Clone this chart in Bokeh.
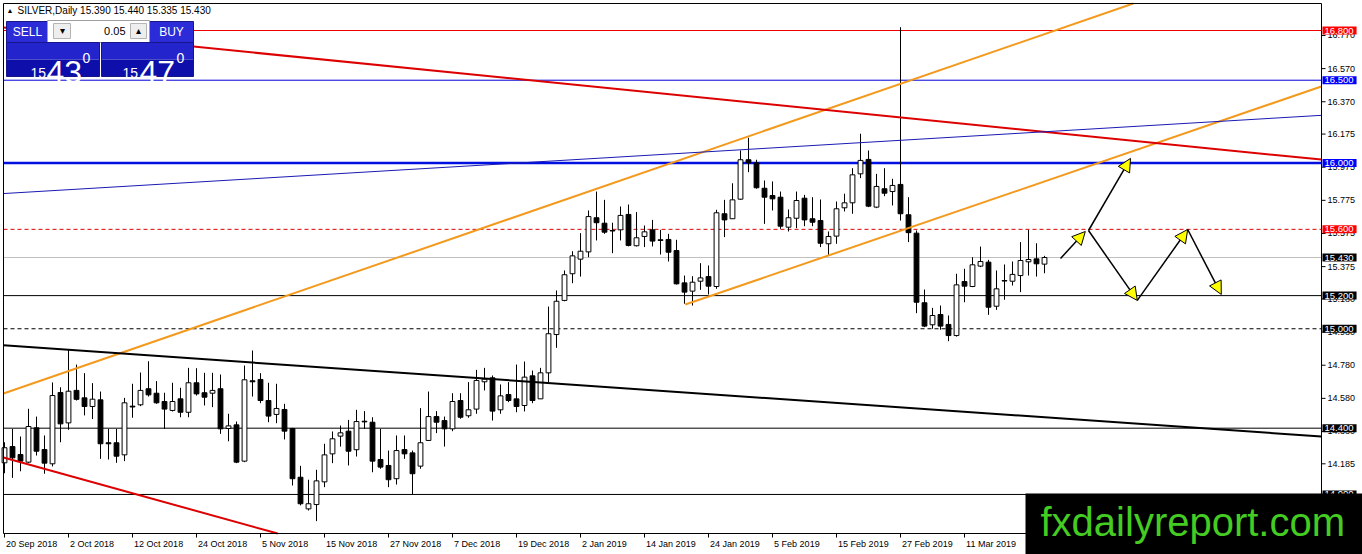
from bokeh.plotting import figure
from bokeh.models import ColumnDataSource, Range1d, Label, Arrow, NormalHead
from bokeh.core.properties import value
from bokeh.embed import file_html
from bokeh.resources import INLINE

# ---------------- data (SILVER daily) ----------------
opens = [14.191, 14.289, 14.241, 14.195, 14.402, 14.271, 14.185, 14.615, 14.432, 14.628,
         14.583, 14.531, 14.571, 14.312, 14.312, 14.239, 14.533, 14.541, 14.638, 14.611,
         14.561, 14.507, 14.577, 14.496, 14.674, 14.614, 14.611, 14.638, 14.398, 14.420,
         14.201, 14.686, 14.694, 14.567, 14.483, 14.513, 14.398, 14.104, 13.913, 13.939,
         14.076, 14.245, 14.352, 14.382, 14.270, 14.442, 14.436, 14.211, 14.175, 14.095,
         14.271, 14.251, 14.171, 14.326, 14.470, 14.446, 14.396, 14.567, 14.475, 14.515,
         14.680, 14.704, 14.511, 14.603, 14.577, 14.537, 14.716, 14.577, 14.734, 14.965,
         15.171, 15.332, 15.420, 15.464, 15.670, 15.637, 15.593, 15.597, 15.690, 15.501,
         15.557, 15.597, 15.537, 15.539, 15.472, 15.277, 15.227, 15.287, 15.315, 15.255,
         15.694, 15.664, 15.782, 16.020, 16.000, 15.848, 15.804, 15.794, 15.613, 15.667,
         15.788, 15.664, 15.653, 15.513, 15.559, 15.730, 15.760, 15.935, 16.022, 15.734,
         15.845, 15.828, 15.871, 15.688, 15.577, 15.157, 15.024, 15.086, 15.026, 14.959,
         15.285, 15.255, 15.378, 15.402, 15.136, 15.291, 15.287, 15.321, 15.404, 15.422,
         15.390]
highs = [14.315, 14.396, 14.350, 14.517, 14.470, 14.356, 14.676, 14.647, 14.875, 14.784,
         14.732, 14.672, 14.621, 14.396, 14.396, 14.583, 14.668, 14.736, 14.804, 14.684,
         14.614, 14.674, 14.644, 14.764, 14.762, 14.734, 14.734, 14.724, 14.487, 14.440,
         14.778, 14.869, 14.732, 14.674, 14.668, 14.547, 14.402, 14.173, 14.089, 14.149,
         14.306, 14.380, 14.416, 14.450, 14.511, 14.503, 14.466, 14.396, 14.265, 14.356,
         14.356, 14.265, 14.521, 14.621, 14.503, 14.470, 14.611, 14.611, 14.678, 14.752,
         14.764, 14.718, 14.664, 14.678, 14.784, 14.802, 14.748, 14.764, 15.134, 15.231,
         15.352, 15.468, 15.577, 15.714, 15.828, 15.778, 15.640, 15.738, 15.750, 15.704,
         15.623, 15.657, 15.597, 15.573, 15.537, 15.321, 15.317, 15.396, 15.382, 15.718,
         15.778, 15.878, 16.076, 16.153, 16.020, 15.895, 15.889, 15.828, 15.720, 15.828,
         15.808, 15.794, 15.780, 15.587, 15.768, 15.815, 15.969, 16.177, 16.076, 15.935,
         15.969, 15.905, 16.820, 15.794, 15.593, 15.237, 15.126, 15.140, 15.080, 15.332,
         15.362, 15.432, 15.496, 15.416, 15.352, 15.388, 15.406, 15.523, 15.597, 15.516,
         15.440]
lows = [14.128, 14.100, 14.140, 14.189, 14.235, 14.125, 14.169, 14.315, 14.390, 14.567,
        14.477, 14.455, 14.215, 14.211, 14.191, 14.201, 14.463, 14.533, 14.591, 14.547,
        14.396, 14.501, 14.466, 14.466, 14.597, 14.537, 14.527, 14.366, 14.321, 14.189,
        14.195, 14.591, 14.551, 14.436, 14.430, 14.332, 14.054, 13.934, 13.903, 13.839,
        14.044, 14.189, 14.289, 14.175, 14.229, 14.396, 14.134, 14.155, 14.044, 14.060,
        14.215, 14.000, 14.155, 14.326, 14.370, 14.289, 14.382, 14.457, 14.463, 14.487,
        14.628, 14.446, 14.487, 14.557, 14.496, 14.501, 14.551, 14.577, 14.678, 14.885,
        15.166, 15.275, 15.315, 15.432, 15.533, 15.573, 15.456, 15.533, 15.497, 15.497,
        15.493, 15.497, 15.448, 15.406, 15.267, 15.151, 15.140, 15.235, 15.207, 15.241,
        15.553, 15.664, 15.778, 15.945, 15.845, 15.633, 15.714, 15.603, 15.587, 15.607,
        15.619, 15.619, 15.493, 15.446, 15.513, 15.708, 15.694, 15.909, 15.734, 15.728,
        15.800, 15.744, 15.653, 15.523, 15.094, 15.010, 15.000, 14.994, 14.925, 14.953,
        15.160, 15.251, 15.372, 15.084, 15.114, 15.175, 15.261, 15.221, 15.321, 15.315,
        15.335]
closes = [14.282, 14.221, 14.201, 14.410, 14.261, 14.189, 14.597, 14.426, 14.623, 14.574,
          14.531, 14.575, 14.306, 14.306, 14.231, 14.553, 14.528, 14.628, 14.601, 14.553,
          14.515, 14.561, 14.496, 14.674, 14.607, 14.587, 14.628, 14.396, 14.414, 14.195,
          14.692, 14.680, 14.567, 14.473, 14.519, 14.382, 14.095, 13.944, 13.944, 14.082,
          14.239, 14.336, 14.372, 14.261, 14.440, 14.438, 14.201, 14.165, 14.089, 14.265,
          14.245, 14.125, 14.312, 14.470, 14.436, 14.396, 14.561, 14.466, 14.511, 14.688,
          14.696, 14.503, 14.595, 14.567, 14.531, 14.708, 14.567, 14.734, 14.970, 15.166,
          15.326, 15.440, 15.468, 15.677, 15.640, 15.583, 15.590, 15.684, 15.503, 15.549,
          15.585, 15.529, 15.533, 15.462, 15.271, 15.221, 15.281, 15.307, 15.257, 15.700,
          15.657, 15.778, 16.020, 16.002, 15.851, 15.794, 15.784, 15.619, 15.670, 15.774,
          15.657, 15.643, 15.516, 15.557, 15.724, 15.760, 15.929, 16.016, 15.740, 15.859,
          15.818, 15.865, 15.694, 15.580, 15.160, 15.016, 15.080, 15.016, 14.959, 15.265,
          15.257, 15.386, 15.406, 15.130, 15.241, 15.288, 15.328, 15.412, 15.418, 15.392,
          15.430]

date_tick_bars = [0, 8, 16, 24, 32, 40, 48, 56, 64, 72, 80, 88, 96, 104, 112, 120]
date_tick_labels = ["20 Sep 2018", "2 Oct 2018", "12 Oct 2018", "24 Oct 2018", "5 Nov 2018",
                    "15 Nov 2018", "27 Nov 2018", "7 Dec 2018", "19 Dec 2018", "2 Jan 2019",
                    "14 Jan 2019", "24 Jan 2019", "5 Feb 2019", "15 Feb 2019", "27 Feb 2019",
                    "11 Mar 2019"]
price_ticks = [16.770, 16.570, 16.370, 16.175, 15.975, 15.775, 15.575, 15.375, 15.180,
               14.980, 14.780, 14.580, 14.380, 14.185, 13.985]

level_prices = [16.800, 16.500, 16.000, 15.600, 15.430, 15.200, 15.000, 14.400, 14.000]
level_colors = ["#ee0000", "#0000d8", "#0010e0", "#dd0000", "#c0c0c0",
                "black", "black", "black", "black"]
level_widths = [1, 1, 2.5, 1, 1, 1, 1, 1, 1]
level_dashes = ["solid", "solid", "solid", "4 3", "solid", "solid", "4 3", "solid", "solid"]
level_tag_bg = ["#ff0000", "#0000ff", "#0000ff", "#ff0000", "black",
                "black", "black", "black", "black"]

# trend lines drawn on the chart: (bar index pair, price pair, colour, width)
trend_x = [[-0.125, 141.1], [85.1, 164.6], [-0.125, 164.6], [-0.125, 164.6], [-0.125, 164.6], [-0.125, 34.15]]
trend_y = [[14.609, 16.963], [15.146, 16.462], [16.818, 16.021], [15.816, 16.288], [14.900, 14.350], [14.223, 13.7644]]
trend_colors = ["#f39a1e", "#f39a1e", "#dd0000", "#1a1ab4", "black", "#dd0000"]
trend_widths = [2, 2, 2, 1, 2, 2]

# projected path arrows (bar index, price)
arrow_x0 = [132.0, 135.5, 135.5, 141.6, 147.9]
arrow_y0 = [15.424, 15.593, 15.593, 15.171, 15.599]
arrow_x1 = [135.1, 140.75, 141.6, 147.9, 152.1]
arrow_y1 = [15.587, 16.028, 15.171, 15.599, 15.207]


# ---------------- layout helpers (reference pixel -> data) ----------------
def X(px):
    return (px - 4.0) / 8.0


def Y(py):
    return 16.8 - (py - 30.0) / 165.7


FONT = "Liberation Sans"
CHART_L, CHART_T, CHART_R, CHART_B = 3, 3, 1321, 533   # chart area, scales outside it

tops = [max(o, c) for o, c in zip(opens, closes)]
bots = [min(o, c) for o, c in zip(opens, closes)]
fills = ["white" if c >= o else "black" for o, c in zip(opens, closes)]
src = ColumnDataSource(dict(idx=list(range(len(opens))), high=highs, low=lows,
                            top=tops, bottom=bots, fill=fills))

p = figure(width=1362, height=554, output_backend="svg", toolbar_location=None,
           x_range=Range1d(X(0), X(1362)), y_range=Range1d(Y(554), Y(0)),
           x_axis_location=None, y_axis_location=None, min_border=0)
p.background_fill_color = "white"
p.border_fill_color = "white"
p.outline_line_color = None
p.xgrid.visible = False
p.ygrid.visible = False

# horizontal levels (behind candles), ending at the price scale
for lp, lc, lw, ld in zip(level_prices, level_colors, level_widths, level_dashes):
    p.segment(x0=[X(CHART_L)], y0=[lp], x1=[X(CHART_R)], y1=[lp],
              line_color=lc, line_width=lw, line_dash=ld)

# candles
p.segment(x0="idx", y0="low", x1="idx", y1="high", source=src, line_color="black", line_width=1)
p.vbar(x="idx", width=0.6, top="top", bottom="bottom", source=src,
       fill_color="fill", line_color="black", line_width=1)

# trend lines
for tx, ty, tc, tw in zip(trend_x, trend_y, trend_colors, trend_widths):
    p.line(tx, ty, line_color=tc, line_width=tw)

# chart border and scales (price scale on the right, dates below)
p.line([X(CHART_L), X(CHART_L), X(CHART_R), X(CHART_R), X(CHART_L)],
       [Y(CHART_B), Y(CHART_T), Y(CHART_T), Y(CHART_B), Y(CHART_B)],
       line_color="black", line_width=1)
n_p = len(price_ticks)
p.segment(x0=[X(CHART_R)] * n_p, y0=price_ticks, x1=[X(CHART_R + 4)] * n_p, y1=price_ticks,
          line_color="black", line_width=1)
p.text(x=[X(CHART_R + 6)] * n_p, y=price_ticks, text=["%.3f" % t for t in price_ticks],
       text_color="black", text_font=value(FONT), text_font_size="9px",
       text_align="left", text_baseline="middle")
n_d = len(date_tick_bars)
p.segment(x0=date_tick_bars, y0=[Y(CHART_B)] * n_d, x1=date_tick_bars, y1=[Y(CHART_B + 4)] * n_d,
          line_color="black", line_width=1)
p.text(x=[b + 0.2 for b in date_tick_bars], y=[Y(CHART_B + 5)] * n_d, text=date_tick_labels,
       text_color="black", text_font=value(FONT), text_font_size="9px",
       text_align="left", text_baseline="top")


# one-click trading panel
def box(l, r, t, b, fill, line=None):
    p.quad(left=[X(l)], right=[X(r)], top=[Y(t)], bottom=[Y(b)],
           fill_color=fill, line_color=line, line_width=1)


box(6, 47, 21, 42, "#2b2bd8", "#16168a")
box(149, 193, 21, 42, "#2b2bd8", "#16168a")
box(47, 149, 20, 42, "white", "#a0a0a0")
box(53, 70, 23, 38, "#eeeeee", "#b4b4b4")
box(130, 146, 23, 38, "#eeeeee", "#b4b4b4")
for l, r in [(6, 99), (101, 193)]:
    box(l, r, 42, 59, "#2424cc", None)
    box(l, r, 59, 76, "#0e0eaa", None)
    box(l, r, 42, 76, None, "#16168a")


def txt(x, y, s, size, color="white", align="left", base="middle"):
    p.text(x=[X(x)], y=[Y(y)], text=[s], text_color=color, text_font=value(FONT),
           text_font_size=size, text_align=align, text_baseline=base)


txt(27, 31, "SELL", "12px", align="center")
txt(171, 31, "BUY", "12px", align="center")
txt(125, 30, "0.05", "11px", color="black", align="right")
txt(61.5, 30, "\u25be", "10px", color="black", align="center")
txt(138, 30, "\u25b4", "10px", color="black", align="center")
txt(30, 72, "15", "14px", base="alphabetic")
txt(46, 71, "43", "32px", base="alphabetic")
txt(82, 57, "0", "14px", base="alphabetic")
txt(122, 72, "15", "14px", base="alphabetic")
txt(139, 71, "47", "32px", base="alphabetic")
txt(176, 57, "0", "14px", base="alphabetic")
txt(6, 10, "\u25b2", "7px", color="black")
txt(17, 10, "SILVER,Daily  15.390 15.440 15.335 15.430", "10px", color="black")

# arrows of the projected path
for x0, y0, x1, y1 in zip(arrow_x0, arrow_y0, arrow_x1, arrow_y1):
    p.add_layout(Arrow(end=NormalHead(size=13, fill_color="#ffff00", line_color="black", line_width=1),
                       x_start=x0, y_start=y0, x_end=x1, y_end=y1,
                       line_color="black", line_width=1.5))

# price tags on the price scale
for lp, bg in zip(level_prices, level_tag_bg):
    p.add_layout(Label(x=X(CHART_R + 1), y=lp, text="%.3f" % lp, text_color="white",
                       text_font=FONT, text_font_size="9.5px", text_align="left",
                       text_baseline="middle", background_fill_color=bg,
                       padding=dict(left=2, right=3, top=1, bottom=1)))

# watermark
p.add_layout(Label(x=X(1025), y=Y(533), text="fxdailyreport.com", text_color="#44cc22",
                   text_font=FONT, text_font_size="40px", text_align="left",
                   text_baseline="alphabetic", background_fill_color="black",
                   padding=dict(left=15, right=30, top=6, bottom=30)))

open("out.html", "w").write(file_html(p, INLINE))
